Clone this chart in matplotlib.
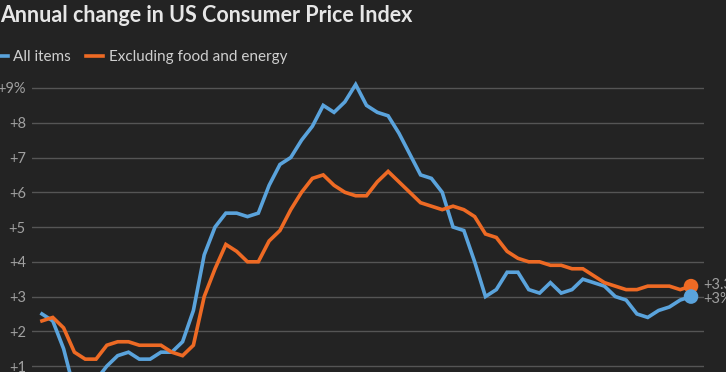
import matplotlib
matplotlib.use("Agg")
import matplotlib.pyplot as plt
from matplotlib.lines import Line2D

# Monthly data, Jan 2020 .. Jan 2025
all_items = [2.5, 2.3, 1.5, 0.3, 0.1, 0.6, 1.0, 1.3, 1.4, 1.2, 1.2, 1.4,
             1.4, 1.7, 2.6, 4.2, 5.0, 5.4, 5.4, 5.3, 5.4, 6.2, 6.8, 7.0,
             7.5, 7.9, 8.5, 8.3, 8.6, 9.1, 8.5, 8.3, 8.2, 7.7, 7.1, 6.5,
             6.4, 6.0, 5.0, 4.9, 4.0, 3.0, 3.2, 3.7, 3.7, 3.2, 3.1, 3.4,
             3.1, 3.2, 3.5, 3.4, 3.3, 3.0, 2.9, 2.5, 2.4, 2.6, 2.7, 2.9,
             3.0]
core = [2.3, 2.4, 2.1, 1.4, 1.2, 1.2, 1.6, 1.7, 1.7, 1.6, 1.6, 1.6,
        1.4, 1.3, 1.6, 3.0, 3.8, 4.5, 4.3, 4.0, 4.0, 4.6, 4.9, 5.5,
        6.0, 6.4, 6.5, 6.2, 6.0, 5.9, 5.9, 6.3, 6.6, 6.3, 6.0, 5.7,
        5.6, 5.5, 5.6, 5.5, 5.3, 4.8, 4.7, 4.3, 4.1, 4.0, 4.0, 3.9,
        3.9, 3.8, 3.8, 3.6, 3.4, 3.3, 3.2, 3.2, 3.3, 3.3, 3.3, 3.2,
        3.3]
y_ticks = [1, 2, 3, 4, 5, 6, 7, 8, 9]
y_labels = ["+1", "+2", "+3", "+4", "+5", "+6", "+7", "+8", "+9%"]
series_names = ["All items", "Excluding food and energy"]
end_labels = ["+3%", "+3.3"]

BG = "#232323"
BLUE = "#5aa3dc"
ORANGE = "#ee6a24"
GRID = "#555555"
TXT = "#a0a0a0"

plt.rcParams['font.family'] = ['Lato', 'DejaVu Sans']

W, H = 726, 372
fig = plt.figure(figsize=(W / 100, H / 100), dpi=100, facecolor=BG)
# axes placed in pixel coords: left 32, right 704, bottom 0 (figure bottom), top 80
ax = fig.add_axes([32 / W, 0, (704 - 32) / W, (372 - 80) / H])
ax.set_facecolor(BG)

x = list(range(len(all_items)))
ax.plot(x, all_items, color=BLUE, lw=2.6, solid_joinstyle='miter', zorder=3)
ax.plot(x, core, color=ORANGE, lw=2.6, solid_joinstyle='miter', zorder=3)
ax.scatter([x[-1]], [core[-1]], s=110, color=ORANGE, zorder=4, edgecolors='none')
ax.scatter([x[-1]], [all_items[-1]], s=110, color=BLUE, zorder=5, edgecolors='none')

ax.set_xlim(-0.92, 61.2)
ax.set_ylim(0.83, 9.23)
ax.set_yticks(y_ticks)
ax.set_yticklabels(y_labels, color=TXT, fontsize=10.5)
ax.tick_params(axis='y', length=0, pad=4.5)
ax.set_xticks([])
ax.grid(axis='y', color=GRID, lw=1)
ax.set_axisbelow(True)
for s in ax.spines.values():
    s.set_visible(False)

# end labels
ax.annotate(end_labels[1], (x[-1], core[-1]), xytext=(9, 1), textcoords='offset points',
            color=TXT, fontsize=10.5, va='center', ha='left', annotation_clip=False)
ax.annotate(end_labels[0], (x[-1], all_items[-1]), xytext=(9, -2), textcoords='offset points',
            color=TXT, fontsize=10.5, va='center', ha='left', annotation_clip=False)

# title
fig.text(0 / W, 1 - 16 / H, "Annual change in US Consumer Price Index", color="#e6e6e6",
         fontsize=15.5, fontweight='bold', va='center', ha='left')

# legend
handles = [Line2D([0], [0], color=BLUE, lw=2.6), Line2D([0], [0], color=ORANGE, lw=2.6)]
fig.legend(handles, series_names, loc='center left', bbox_to_anchor=(-0.012, 1 - 57 / H),
           frameon=False, ncol=2, fontsize=11, labelcolor="#cfcfcf",
           handlelength=1.1, handletextpad=0.35, columnspacing=1.0, borderaxespad=0,
           borderpad=0)

fig.savefig("out.png", dpi=100, facecolor=BG)
